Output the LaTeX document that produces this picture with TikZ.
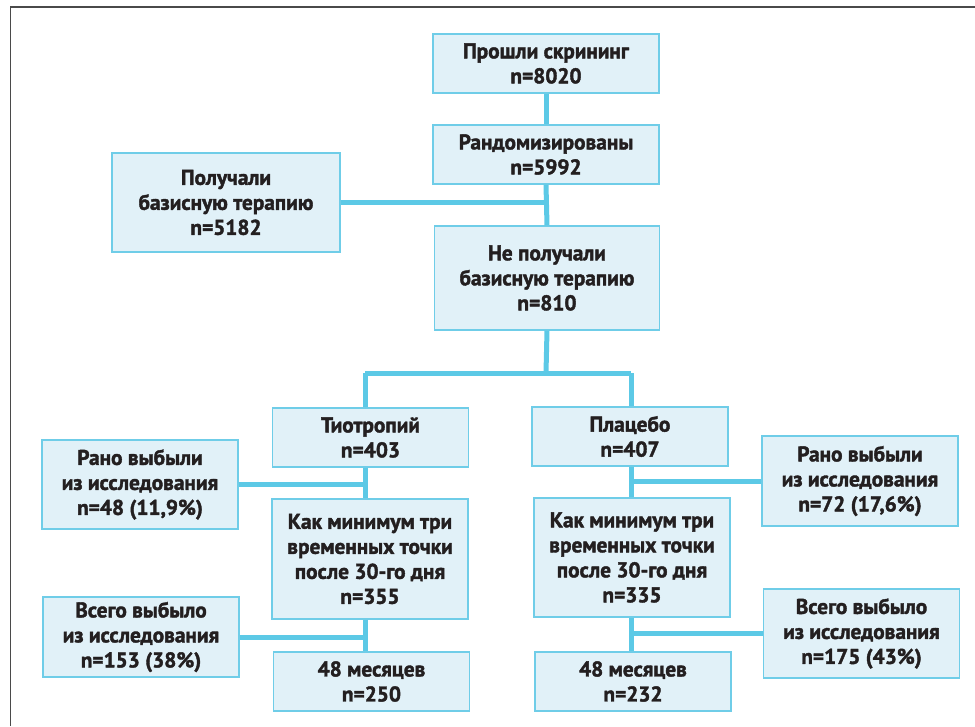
\documentclass[tikz,border=0pt]{standalone}
\usepackage{fontspec}
\setmainfont{PT Sans}[BoldFeatures={FakeBold=1.8}]
\usepackage{tikz}
\definecolor{boxfill}{HTML}{E1F1F8}
\definecolor{boxline}{HTML}{6FCDE8}
\definecolor{linkcol}{HTML}{5CC9E6}
\definecolor{framecol}{HTML}{4A4A4A}
\definecolor{textcol}{HTML}{231F20}
\tikzstyle{box} = [rectangle, draw=boxline, line width=1.2pt, fill=boxfill, text=textcol, align=center, inner sep=0pt, minimum width=196pt, font=\fontsize{21.3}{25}\selectfont\bfseries]
\tikzstyle{link} = [linkcol, line width=5pt]
\tikzstyle{frame} = [framecol, line width=1.8pt]

\begin{document}
\begin{tikzpicture}[x=1pt, y=-1pt]
    \useasboundingbox (0,0) rectangle (975,726);
    \draw [frame] (10.5,726) -- (10.5,7) -- (975,7);

    \node [box, minimum width=226pt, minimum height=59pt] at (546,63.5) (screen) {Прошли скрининг\\n=8020};
    \node [box, minimum width=226pt, minimum height=59pt] at (546,154.5) (random) {Рандомизированы\\n=5992};
    \node [box, minimum width=228pt, minimum height=99pt] at (226,202.5) (basis) {Получали\\базисную терапию\\n=5182};
    \node [box, minimum width=225pt, minimum height=104pt] at (547,278) (nobasis) {Не получали\\базисную терапию\\n=810};

    \node [box, minimum height=59pt] at (370.5,437.5) (tio) {Тиотропий\\n=403};
    \node [box, minimum height=59pt] at (630,436.5) (plac) {Плацебо\\n=407};

    \node [box, minimum height=89pt] at (140,484.5) (tioearly) {Рано выбыли\\из исследования\\n=48 (11,9\%)};
    \node [box, minimum height=120pt] at (370,559) (tiomin) {Как минимум три\\временных точки\\после 30-го дня\\n=355};
    \node [box, minimum height=80pt] at (141,637) (tioall) {Всего выбыло\\из исследования\\n=153 (38\%)};
    \node [box, minimum height=59pt] at (371.5,681.5) (tio48) {48 месяцев\\n=250};

    \node [box, minimum height=90pt] at (860,481) (placearly) {Рано выбыли\\из исследования\\n=72 (17,6\%)};
    \node [box, minimum height=119pt] at (632,557.5) (placmin) {Как минимум три\\временных точки\\после 30-го дня\\n=335};
    \node [box, minimum height=89pt] at (861.5,633.5) (placall) {Всего выбыло\\из исследования\\n=175 (43\%)};
    \node [box, minimum height=59pt] at (633,681.5) (plac48) {48 месяцев\\n=232};

    \coordinate (split) at (546,373);
    \coordinate (lefttrunk) at (365,373);
    \coordinate (righttrunk) at (631,373);

    \draw [link] (screen.south) -- (random.north);
    \draw [link] (random.south) -- (nobasis.north);
    \draw [link] (basis.east) -- (basis.east -| random.south);
    \draw [link] (nobasis.south) -- (split);
    \draw [link] (lefttrunk) -- (righttrunk);
    \draw [link] (lefttrunk) -- (lefttrunk |- tio.north);
    \draw [link] (righttrunk) -- (righttrunk |- plac.north);

    \draw [link] (tio.south -| lefttrunk) -- (tiomin.north -| lefttrunk);
    \draw [link] (tiomin.south -| lefttrunk) -- (tio48.north -| lefttrunk);
    \draw [link] (tioearly.east) -- (tioearly.east -| lefttrunk);
    \draw [link] (tioall.east) -- (tioall.east -| lefttrunk);

    \draw [link] (plac.south -| righttrunk) -- (placmin.north -| righttrunk);
    \draw [link] (placmin.south -| righttrunk) -- (plac48.north -| righttrunk);
    \draw [link] (placearly.west) -- (placearly.west -| righttrunk);
    \draw [link] (placall.west) -- (placall.west -| righttrunk);
\end{tikzpicture}
\end{document}
